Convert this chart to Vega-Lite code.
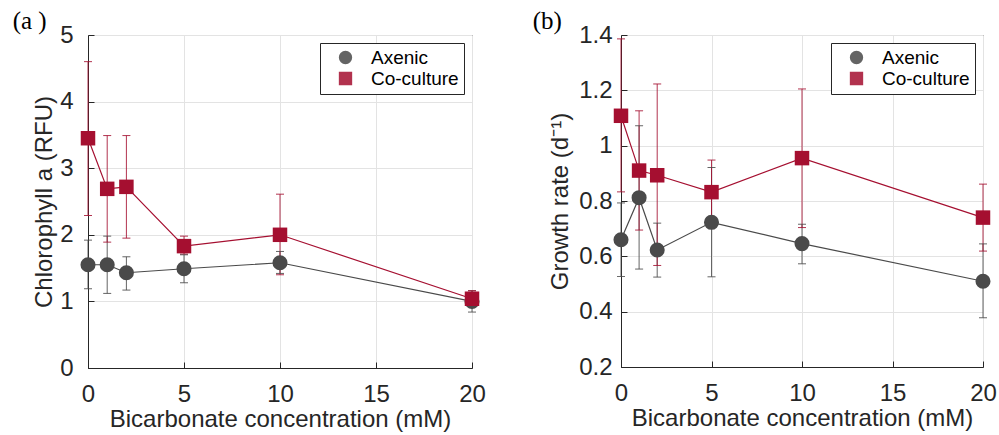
{
  "$schema": "https://vega.github.io/schema/vega-lite/v6.json",
  "background": "white",
  "padding": {"left": 12, "top": 8, "right": 2, "bottom": 0},
  "spacing": 46,
  "datasets": {
    "d": [
      {"panel": "a", "series": "Axenic", "x": 0, "y": 1.55, "lo": 1.19, "hi": 1.92},
      {"panel": "a", "series": "Axenic", "x": 1, "y": 1.55, "lo": 1.12, "hi": 1.98},
      {"panel": "a", "series": "Axenic", "x": 2, "y": 1.43, "lo": 1.17, "hi": 1.67},
      {"panel": "a", "series": "Axenic", "x": 5, "y": 1.49, "lo": 1.28, "hi": 1.70},
      {"panel": "a", "series": "Axenic", "x": 10, "y": 1.58, "lo": 1.42, "hi": 1.75},
      {"panel": "a", "series": "Axenic", "x": 20, "y": 1.00, "lo": 0.84, "hi": 1.16},
      {"panel": "a", "series": "Co-culture", "x": 0, "y": 3.45, "lo": 2.29, "hi": 4.60},
      {"panel": "a", "series": "Co-culture", "x": 1, "y": 2.69, "lo": 1.89, "hi": 3.49},
      {"panel": "a", "series": "Co-culture", "x": 2, "y": 2.72, "lo": 1.95, "hi": 3.49},
      {"panel": "a", "series": "Co-culture", "x": 5, "y": 1.83, "lo": 1.71, "hi": 1.98},
      {"panel": "a", "series": "Co-culture", "x": 10, "y": 2.00, "lo": 1.40, "hi": 2.61},
      {"panel": "a", "series": "Co-culture", "x": 20, "y": 1.04, "lo": 0.92, "hi": 1.16},
      {"panel": "b", "series": "Axenic", "x": 0, "y": 0.66, "lo": 0.527, "hi": 0.793},
      {"panel": "b", "series": "Axenic", "x": 1, "y": 0.812, "lo": 0.554, "hi": 1.072},
      {"panel": "b", "series": "Axenic", "x": 2, "y": 0.623, "lo": 0.525, "hi": 0.72},
      {"panel": "b", "series": "Axenic", "x": 5, "y": 0.723, "lo": 0.526, "hi": 0.921},
      {"panel": "b", "series": "Axenic", "x": 10, "y": 0.646, "lo": 0.573, "hi": 0.716},
      {"panel": "b", "series": "Axenic", "x": 20, "y": 0.51, "lo": 0.378, "hi": 0.645},
      {"panel": "b", "series": "Co-culture", "x": 0, "y": 1.108, "lo": 0.833, "hi": 1.386},
      {"panel": "b", "series": "Co-culture", "x": 1, "y": 0.91, "lo": 0.695, "hi": 1.126},
      {"panel": "b", "series": "Co-culture", "x": 2, "y": 0.893, "lo": 0.567, "hi": 1.223},
      {"panel": "b", "series": "Co-culture", "x": 5, "y": 0.832, "lo": 0.716, "hi": 0.948},
      {"panel": "b", "series": "Co-culture", "x": 10, "y": 0.955, "lo": 0.704, "hi": 1.205},
      {"panel": "b", "series": "Co-culture", "x": 20, "y": 0.74, "lo": 0.619, "hi": 0.861}
    ]
  },
  "config": {
    "font": "Liberation Sans",
    "view": {"stroke": "#262626", "strokeWidth": 1},
    "axis": {
      "labelFont": "Liberation Sans", "labelFontSize": 24, "labelColor": "#262626", "labelFlush": false,
      "titleFont": "Liberation Sans", "titleFontSize": 24, "titleFontWeight": "normal", "titleColor": "#262626",
      "domainColor": "#262626", "tickColor": "#262626", "gridColor": "#e3e3e3", "tickSize": -6
    },
    "legend": {
      "orient": "top-right", "offset": 8, "strokeColor": "#262626", "fillColor": "white",
      "padding": 5, "labelFont": "Liberation Sans", "labelFontSize": 19, "labelColor": "black",
      "symbolSize": 140, "rowPadding": 1, "labelOffset": 16, "symbolOffset": 11
    },
    "title": {"font": "Liberation Serif", "fontSize": 25, "fontWeight": "normal", "color": "black", "anchor": "start", "frame": "bounds"}
  },
  "resolve": {"scale": {"color": "independent", "shape": "independent", "y": "independent"}, "legend": {"color": "independent"}},
  "hconcat": [
    {
      "width": 384, "height": 333,
      "title": {"text": "(a )", "dx": -20, "offset": -11},
      "data": {"name": "d"},
      "transform": [{"filter": "datum.panel === 'a'"}],
      "encoding": {
        "x": {"field": "x", "type": "quantitative", "scale": {"domain": [0, 20], "nice": false},
              "axis": {"values": [0, 5, 10, 15, 20], "title": "Bicarbonate concentration (mM)", "labelPadding": 20, "titlePadding": 1}},
        "color": {"field": "series", "type": "nominal",
                  "scale": {"domain": ["Axenic", "Co-culture"], "range": ["#4a4a4a", "#a50f30"]},
                  "legend": {"title": null}}
      },
      "layer": [
        {"mark": {"type": "rule", "strokeWidth": 1, "opacity": 0.85},
         "encoding": {"y": {"field": "lo", "type": "quantitative", "scale": {"domain": [0, 5], "nice": false},
                            "axis": {"values": [0, 1, 2, 3, 4, 5], "format": "~g", "title": "Chlorophyll a (RFU)", "labelPadding": 21, "titlePadding": 3}},
                      "y2": {"field": "hi"}}},
        {"mark": {"type": "tick", "orient": "horizontal", "size": 8, "thickness": 1, "opacity": 0.85},
         "encoding": {"y": {"field": "lo", "type": "quantitative"}}},
        {"mark": {"type": "tick", "orient": "horizontal", "size": 8, "thickness": 1, "opacity": 0.85},
         "encoding": {"y": {"field": "hi", "type": "quantitative"}}},
        {"mark": {"type": "line", "strokeWidth": 1.2},
         "encoding": {"y": {"field": "y", "type": "quantitative"}}},
        {"mark": {"type": "point", "filled": true, "opacity": 1},
         "encoding": {"y": {"field": "y", "type": "quantitative"},
                      "shape": {"field": "series", "type": "nominal", "scale": {"domain": ["Axenic", "Co-culture"], "range": ["circle", "square"]}, "legend": null},
                      "size": {"field": "series", "type": "nominal", "scale": {"domain": ["Axenic", "Co-culture"], "range": [227, 210]}, "legend": null}}}
      ]
    },
    {
      "width": 362, "height": 332,
      "title": {"text": "(b)", "dx": -16, "offset": -11},
      "data": {"name": "d"},
      "transform": [{"filter": "datum.panel === 'b'"}],
      "encoding": {
        "x": {"field": "x", "type": "quantitative", "scale": {"domain": [0, 20], "nice": false},
              "axis": {"values": [0, 5, 10, 15, 20], "title": "Bicarbonate concentration (mM)", "labelPadding": 20, "titlePadding": 1}},
        "color": {"field": "series", "type": "nominal",
                  "scale": {"domain": ["Axenic", "Co-culture"], "range": ["#4a4a4a", "#a50f30"]},
                  "legend": {"title": null}}
      },
      "layer": [
        {"mark": {"type": "rule", "strokeWidth": 1, "opacity": 0.85},
         "encoding": {"y": {"field": "lo", "type": "quantitative", "scale": {"domain": [0.2, 1.4], "nice": false},
                            "axis": {"values": [0.2, 0.4, 0.6, 0.8, 1, 1.2, 1.4], "format": "~g", "title": "Growth rate (d⁻¹)", "labelPadding": 15, "titlePadding": 6}},
                      "y2": {"field": "hi"}}},
        {"mark": {"type": "tick", "orient": "horizontal", "size": 8, "thickness": 1, "opacity": 0.85},
         "encoding": {"y": {"field": "lo", "type": "quantitative"}}},
        {"mark": {"type": "tick", "orient": "horizontal", "size": 8, "thickness": 1, "opacity": 0.85},
         "encoding": {"y": {"field": "hi", "type": "quantitative"}}},
        {"mark": {"type": "line", "strokeWidth": 1.2},
         "encoding": {"y": {"field": "y", "type": "quantitative"}}},
        {"mark": {"type": "point", "filled": true, "opacity": 1},
         "encoding": {"y": {"field": "y", "type": "quantitative"},
                      "shape": {"field": "series", "type": "nominal", "scale": {"domain": ["Axenic", "Co-culture"], "range": ["circle", "square"]}, "legend": null},
                      "size": {"field": "series", "type": "nominal", "scale": {"domain": ["Axenic", "Co-culture"], "range": [227, 210]}, "legend": null}}}
      ]
    }
  ]
}
